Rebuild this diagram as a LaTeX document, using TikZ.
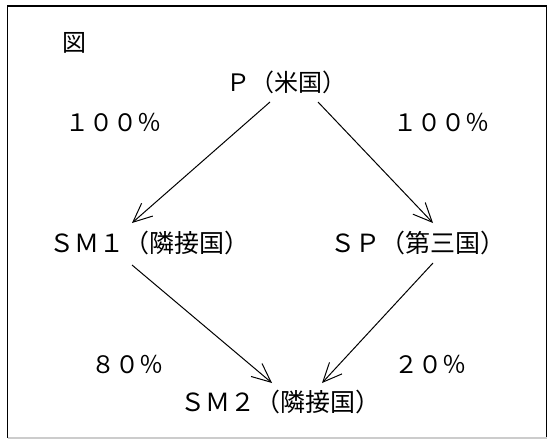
\documentclass[tikz,border=0pt]{standalone}
\usepackage{fontspec}
\newfontfamily\jp{Noto Sans CJK JP}
\usetikzlibrary{arrows.meta,calc}
\begin{document}
\begin{tikzpicture}[x=1pt,y=-1pt,
  lbl/.style={font=\jp\fontsize{25}{28}\selectfont, inner sep=0pt, anchor=base west},
  lblsm/.style={lbl, font=\jp\fontsize{24}{28}\selectfont},
  arr/.style={line width=1pt, -{Straight Barb[length=19pt,width=17pt,line width=1pt]}},
  frame/.style={line width=1.3pt}]
\useasboundingbox (0,0) rectangle (550,439);
\draw[frame] (7.5,438) -- (7.5,6) -- (546.5,6) -- (546.5,438);
\draw[frame, black!20] (7.5,438) -- (546.5,438);
\node[font=\jp\fontsize{24}{28}\selectfont, inner sep=0pt] (fig) at (75,43) {図};
\node[lblsm] (P) at (226.5,91) {Ｐ（米国）};
\node[lblsm] (pl) at (65.5,131) {１００％};
\node[lblsm] (pr) at (393.5,131) {１００％};
\node[lbl] (SM1) at (49.5,252.5) {ＳＭ１（隣接国）};
\node[lbl] (SP) at (330,252.5) {ＳＰ（第三国）};
\node[lblsm] (ql) at (91,373) {８０％};
\node[lblsm] (qr) at (394,373) {２０％};
\node[lbl] (SM2) at (180,411.5) {ＳＭ２（隣接国）};
\draw[arr] ($(P.base west)+(43.5,11)$) -- ($(SM1.base west)+(82.5,-29.5)$);
\draw[arr] ($(P.base west)+(91.5,11)$) -- ($(SP.base west)+(103,-29.5)$);
\draw[arr] ($(SM1.base west)+(82.5,12.5)$) -- ($(SM2.base west)+(92,-28.5)$);
\draw[arr] ($(SP.base west)+(103,10.5)$) -- ($(SM2.base west)+(142,-28.5)$);
\end{tikzpicture}
\end{document}
